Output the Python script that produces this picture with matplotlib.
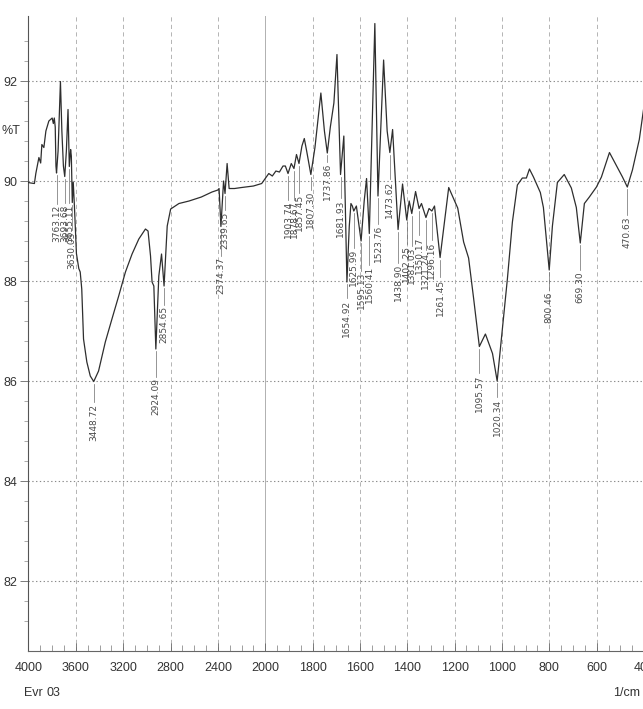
import numpy as np
import matplotlib
matplotlib.use("Agg")
import matplotlib.pyplot as plt
from matplotlib import font_manager

# ---- spectrum (wavenumber in 1/cm, transmittance in %T) ----
wavenumber = [
    4000, 3980, 3950, 3938, 3912, 3897, 3887, 3870, 3853, 3828, 3800, 3790,
    3782, 3774, 3768, 3763.12, 3750, 3730, 3718, 3705, 3693.68, 3680, 3666,
    3660, 3655.11, 3644, 3638, 3630.03, 3622, 3612, 3595, 3575, 3563, 3550,
    3535, 3507, 3478, 3448.72, 3408, 3351, 3295, 3238, 3181, 3125, 3068,
    3012, 2990, 2969, 2956, 2941, 2924.09, 2899, 2876, 2854.65, 2828, 2799,
    2729, 2644, 2540, 2450, 2400, 2390, 2374.37, 2352, 2339.65, 2322, 2305,
    2260, 2200, 2100, 2030, 2000, 1985, 1970, 1955, 1940, 1925, 1915,
    1903.74, 1890, 1878.67, 1868, 1857.45, 1845, 1835, 1825, 1807.30, 1790,
    1765, 1750, 1737.86, 1725, 1710, 1697, 1681.93, 1668, 1654.92, 1645,
    1638, 1632, 1625.99, 1615, 1595.13, 1582, 1572, 1560.41, 1537, 1523.76,
    1500, 1485, 1473.62, 1462, 1438.90, 1420, 1402.25, 1392, 1381.03, 1365,
    1350.17, 1340, 1321.24, 1308, 1296.16, 1285, 1261.45, 1225, 1187, 1162,
    1141, 1120, 1095.57, 1070, 1040, 1020.34, 998, 977, 956, 935, 914, 897,
    884, 867, 838, 825, 800.46, 787, 766, 737, 707, 686, 669.30, 652, 631,
    601, 580, 546, 517, 491, 470.63, 449, 420, 400,
]
transmittance = [
    89.97, 89.96, 89.95, 90.15, 90.47, 90.36, 90.73, 90.67, 91.00, 91.20,
    91.26, 91.15, 91.26, 91.08, 90.30, 90.16, 90.60, 91.99, 91.00, 90.30,
    90.09, 90.60, 91.43, 90.80, 90.29, 90.63, 90.50, 89.57, 89.98, 89.50,
    88.55, 88.25, 88.18, 87.84, 86.84, 86.38, 86.10, 85.99, 86.20, 86.78,
    87.24, 87.70, 88.18, 88.54, 88.84, 89.04, 89.00, 88.50, 87.98, 87.90,
    86.64, 88.10, 88.54, 87.90, 89.10, 89.44, 89.55, 89.60, 89.68, 89.78,
    89.82, 89.85, 89.09, 90.00, 89.75, 90.35, 89.85, 89.85, 89.87, 89.90,
    89.95, 90.05, 90.15, 90.10, 90.20, 90.18, 90.30, 90.30, 90.15, 90.35,
    90.25, 90.53, 90.35, 90.70, 90.85, 90.60, 90.13, 90.67, 91.76, 91.00,
    90.56, 91.08, 91.56, 92.53, 90.13, 90.90, 87.98, 89.10, 89.55, 89.50,
    89.40, 89.50, 88.80, 89.60, 90.05, 88.95, 93.15, 89.70, 92.42, 91.00,
    90.57, 91.03, 89.03, 89.94, 89.22, 89.60, 89.35, 89.79, 89.45, 89.55,
    89.27, 89.45, 89.40, 89.50, 88.47, 89.87, 89.46, 88.78, 88.46, 87.66,
    86.69, 86.94, 86.55, 86.00, 87.05, 88.05, 89.18, 89.92, 90.06, 90.06,
    90.24, 90.08, 89.77, 89.47, 88.22, 89.10, 89.97, 90.13, 89.86, 89.47,
    88.76, 89.55, 89.68, 89.88, 90.08, 90.57, 90.31, 90.08, 89.88, 90.22,
    90.83, 91.50,
]

# ---- annotated peaks and where each label starts (in %T) ----
peak_positions = [
    3763.12, 3693.68, 3655.11, 3630.03, 3448.72, 2924.09, 2854.65, 2374.37,
    2339.65, 1903.74, 1878.67, 1857.45, 1807.30, 1737.86, 1681.93, 1654.92,
    1625.99, 1595.13, 1560.41, 1523.76, 1473.62, 1438.90, 1402.25, 1381.03,
    1350.17, 1321.24, 1296.16, 1261.45, 1095.57, 1020.34, 800.46, 669.30,
    470.63,
]
label_tops = [
    89.52, 89.53, 89.53, 88.99, 85.55, 86.06, 87.50, 88.48,
    89.39, 89.60, 89.60, 89.74, 89.80, 90.36, 89.63, 87.63,
    88.64, 88.18, 88.30, 89.12, 90.01, 88.34, 88.72, 88.68,
    88.89, 88.59, 88.79, 88.05, 86.13, 85.65, 87.79, 88.20,
    89.30,
]

x_major = [4000, 3600, 3200, 2800, 2400, 2000, 1800, 1600, 1400, 1200,
           1000, 800, 600, 400]
y_major = [82, 84, 86, 88, 90, 92]

available = {f.name for f in font_manager.fontManager.ttflist}
narrow = "Liberation Sans Narrow" if "Liberation Sans Narrow" in available else "Liberation Sans"


def compress(w):
    w = np.asarray(w, dtype=float)
    return np.where(w > 2000, 2000 + (w - 2000) / 2.0, w)


def expand(u):
    u = np.asarray(u, dtype=float)
    return np.where(u > 2000, 2000 + (u - 2000) * 2.0, u)


fig = plt.figure(figsize=(6.43, 7.09), dpi=100)
ax = fig.add_axes([0.0443, 0.0818, 0.9573, 0.8956])
ax.set_xscale("function", functions=(compress, expand))
ax.set_xlim(4000, 400)
ax.set_ylim(80.6, 93.3)

# grid
for y in y_major:
    ax.axhline(y, color="#8a8a8a", lw=0.8, ls=(0, (1.2, 2.2)), zorder=0)
for x in x_major[1:-1]:
    if x == 2000:
        ax.axvline(x, color="#b0b0b0", lw=0.7, zorder=0)
    else:
        ax.axvline(x, color="#a8a8a8", lw=0.6, ls=(0, (5, 4)), zorder=0)

# spectrum
ax.plot(wavenumber, transmittance, color="#2e2e2e", lw=0.9, zorder=3)

# peak labels
order = np.argsort(wavenumber)
wn_sorted = np.asarray(wavenumber)[order]
t_sorted = np.asarray(transmittance)[order]
for w, top in zip(peak_positions, label_tops):
    t_at = np.interp(w, wn_sorted, t_sorted)
    ax.plot([w, w], [t_at - 0.04, top + 0.03], color="#6a6a6a", lw=0.5, zorder=2)
    ax.text(w, top, f"{w:.2f}", rotation=90, ha="center", va="top",
            fontsize=6.5, color="#4a4a4a", family="DejaVu Sans", zorder=4)

# axes styling
for side in ("top", "right"):
    ax.spines[side].set_visible(False)
ax.spines["left"].set_color("#555555")
ax.spines["bottom"].set_color("#666666")
ax.spines["left"].set_linewidth(0.8)
ax.spines["bottom"].set_linewidth(0.8)

ax.set_xticks(x_major)
ax.set_xticklabels([str(v) for v in x_major])
x_minor = [v for v in range(3900, 2000, -100) if v not in x_major] + \
          [v for v in range(1950, 400, -50) if v not in x_major]
ax.set_xticks(x_minor, minor=True)
ax.tick_params(axis="x", which="major", direction="in", length=6, width=0.6,
               color="#666666", pad=8, labelsize=9, labelcolor="#333333")
ax.tick_params(axis="x", which="minor", direction="in", length=4, width=0.5,
               color="#777777")

ax.set_yticks(y_major)
ax.set_yticks(np.arange(81.2, 93.2, 0.4), minor=True)
ax.set_yticklabels([str(v) for v in y_major])
ax.tick_params(axis="y", which="major", direction="out", length=6, width=0.6,
               color="#666666", pad=2, labelsize=9, labelcolor="#333333")
ax.tick_params(axis="y", which="minor", direction="out", length=3, width=0.5,
               color="#888888")
for lab in ax.get_xticklabels() + ax.get_yticklabels():
    lab.set_family(narrow)

ax.text(-0.028, 91.0, "%T", transform=ax.get_yaxis_transform(), ha="center",
        va="center", fontsize=9, color="#333333", family=narrow)

fig.text(33 / 643, 1 - 693 / 709, "Evr", ha="center", va="center",
         fontsize=9, color="#333333", family=narrow)
fig.text(53 / 643, 1 - 693 / 709, "03", ha="center", va="center",
         fontsize=9, color="#333333", family=narrow)
fig.text(640 / 643, 1 - 693 / 709, "1/cm", ha="right", va="center",
         fontsize=9, color="#333333", family=narrow)

fig.savefig("out.png", dpi=100, facecolor="white")
